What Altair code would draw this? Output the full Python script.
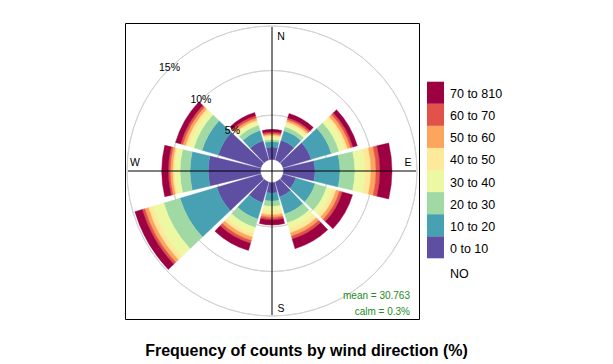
import altair as alt
import numpy as np
import pandas as pd

# wind direction sectors (degrees, clockwise from north)
directions = [0, 30, 60, 90, 120, 150, 180, 210, 240, 270, 300, 330]

# concentration bins (inner -> outer) and their colours
bins = ["0 to 10", "10 to 20", "20 to 30", "30 to 40",
        "40 to 50", "50 to 60", "60 to 70", "70 to 810"]
colors = ["#5E4FA2", "#48A1B3", "#A1D9A4", "#EDF8A3",
          "#FEE99A", "#FCA55D", "#E2524A", "#9E0142"]

# frequency (%) of each bin, one value per direction sector (N, 30, 60, ... 330)
f_0_10 = [1.40, 2.30, 3.31, 3.54, 1.52, 1.74, 1.18, 2.42, 5.17, 5.87, 5.00, 2.25]
f_10_20 = [0.62, 1.13, 2.36, 2.81, 2.24, 2.02, 0.90, 1.91, 4.32, 2.05, 1.91, 1.21]
f_20_30 = [0.23, 0.45, 0.90, 1.68, 1.35, 1.02, 0.62, 1.01, 1.91, 1.12, 0.96, 0.61]
f_30_40 = [0.28, 0.33, 0.68, 1.13, 0.62, 0.67, 0.50, 0.67, 1.24, 0.57, 0.58, 0.35]
f_40_50 = [0.19, 0.28, 0.33, 0.67, 0.51, 0.51, 0.45, 0.45, 0.56, 0.26, 0.39, 0.24]
f_50_60 = [0.18, 0.23, 0.34, 0.56, 0.39, 0.39, 0.28, 0.39, 0.41, 0.26, 0.32, 0.27]
f_60_70 = [0.19, 0.22, 0.28, 0.45, 0.34, 0.34, 0.28, 0.34, 0.31, 0.23, 0.27, 0.26]
f_70_810 = [0.30, 0.51, 0.51, 1.35, 1.18, 1.12, 0.57, 0.84, 0.86, 0.74, 0.58, 0.37]

grid_values = [5, 10, 15]
grid_labels = ["5%", "10%", "15%"]
compass = ["N", "E", "S", "W"]

title_text = "Frequency of counts by wind direction (%)"
legend_title = "NO"
stats = ["mean = 30.763", "calm = 0.3%"]

# ---------------------------------------------------------------------------
series = [f_0_10, f_10_20, f_20_30, f_30_40, f_40_50, f_50_60, f_60_70, f_70_810]
half = 13.5  # half sector width in degrees
rows = []
for i, d in enumerate(directions):
    t0, t1 = d - half, d + half
    if t0 < 0:
        t0, t1 = t0 + 360, t1 + 360
    cum = 0.0
    for b, vals in zip(bins, series):
        rows.append({"dir": d, "t0": t0, "t1": t1, "r0": cum, "r1": cum + vals[i], "bin": b})
        cum += vals[i]
rose = pd.DataFrame(rows)

theta_scale = alt.Scale(domain=[0, 360], range=[0, 2 * np.pi])
radius_scale = alt.Scale(type="linear", domain=[0, 15], range=[11.5, 145], zero=False)
color_scale = alt.Scale(domain=bins, range=colors)

FONT = "Liberation Sans"

grid_df = pd.DataFrame({"g": grid_values, "lab": grid_labels, "a0": 0, "a1": 360})

circles = alt.Chart(grid_df).mark_arc(
    filled=False, stroke="#D3D3D3", strokeWidth=1
).encode(
    theta=alt.Theta("a0:Q", scale=theta_scale),
    theta2="a1:Q",
    radius=alt.Radius("g:Q", scale=radius_scale),
    radius2="g:Q",
)

sectors = alt.Chart(rose).mark_arc(strokeWidth=0.4).encode(
    theta=alt.Theta("t0:Q", scale=theta_scale),
    theta2="t1:Q",
    radius=alt.Radius("r1:Q", scale=radius_scale),
    radius2="r0:Q",
    color=alt.Color("bin:N", scale=color_scale, legend=None),
    stroke=alt.Stroke("bin:N", scale=color_scale, legend=None),
)

vline = alt.Chart(pd.DataFrame({"a": [0]})).mark_rule(color="black", strokeWidth=1).encode(
    x=alt.value(147), y=alt.value(4), y2=alt.value(292))
hline = alt.Chart(pd.DataFrame({"a": [0]})).mark_rule(color="black", strokeWidth=1).encode(
    y=alt.value(148), x=alt.value(3), x2=alt.value(291))

grid_text = alt.Chart(grid_df).mark_text(
    font=FONT, fontSize=10.5, color="black", align="center", baseline="middle"
).encode(
    theta=alt.value(7 * np.pi / 4),
    radius=alt.Radius("g:Q", scale=radius_scale),
    text="lab:N",
)

comp_pos = {"N": (156, 13.5), "E": (283, 139.5), "S": (156, 285.5), "W": (10, 139.5)}
comp_layers = []
for c in compass:
    px, py = comp_pos[c]
    comp_layers.append(
        alt.Chart(pd.DataFrame({"t": [c]})).mark_text(
            font=FONT, fontSize=10.5, color="black", align="center", baseline="middle"
        ).encode(x=alt.value(px), y=alt.value(py), text="t:N")
    )

stat_layers = []
for s, py in zip(stats, [272.5, 289]):
    stat_layers.append(
        alt.Chart(pd.DataFrame({"t": [s]})).mark_text(
            font=FONT, fontSize=10, color="#228B22", align="right", baseline="middle"
        ).encode(x=alt.value(285), y=alt.value(py), text="t:N")
    )

leg_df = pd.DataFrame({"bin": bins})
leg_y = alt.Y("bin:N", scale=alt.Scale(domain=bins[::-1], range=[58.7, 235.3],
                                       paddingInner=0, paddingOuter=0), axis=None)
leg_rect = alt.Chart(leg_df).mark_rect().encode(
    y=leg_y, x=alt.value(302), x2=alt.value(319),
    color=alt.Color("bin:N", scale=color_scale, legend=None))
leg_text = alt.Chart(leg_df).mark_text(
    font=FONT, fontSize=12.5, color="black", align="left", baseline="middle", dy=1.5
).encode(y=leg_y, x=alt.value(325), text="bin:N")
leg_title = alt.Chart(pd.DataFrame({"t": [legend_title]})).mark_text(
    font=FONT, fontSize=12.5, color="black", align="left", baseline="middle"
).encode(x=alt.value(325), y=alt.value(251), text="t:N")

title = alt.Chart(pd.DataFrame({"t": [title_text]})).mark_text(
    font=FONT, fontSize=16, fontWeight="bold", color="black", align="center", baseline="alphabetic"
).encode(x=alt.value(181.5), y=alt.value(333.2), text="t:N")

chart = alt.layer(
    circles, sectors, vline, hline, grid_text, *comp_layers, *stat_layers,
    leg_rect, leg_text, leg_title, title
).properties(
    width=294, height=296,
    autosize=alt.AutoSizeParams(type="none"),
    padding={"left": 117, "top": 15, "right": 186, "bottom": 41},
).configure_view(stroke="black", strokeWidth=1)

chart.save("out.html", embed_options={"renderer": "svg", "actions": False})
